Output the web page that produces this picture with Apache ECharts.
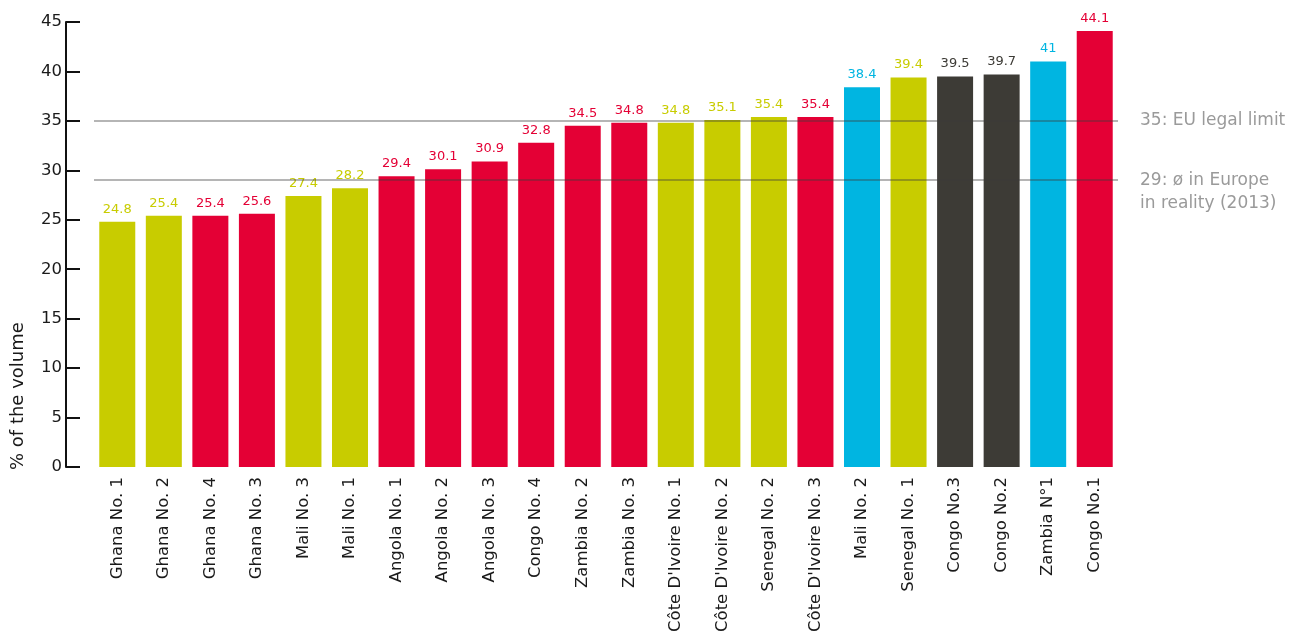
<!DOCTYPE html>
<html><head><meta charset="utf-8">
<script src="https://cdn.jsdelivr.net/npm/echarts@6/dist/echarts.min.js"></script>
<style>html,body{margin:0;padding:0;background:#fff}#c{width:1298px;height:641px}</style>
</head><body><div id="c"></div>
<script>
const categories = ["Ghana No. 1","Ghana No. 2","Ghana No. 4","Ghana No. 3","Mali No. 3","Mali No. 1","Angola No. 1","Angola No. 2","Angola No. 3","Congo No. 4","Zambia No. 2","Zambia No. 3","Côte D'Ivoire No. 1","Côte D'Ivoire No. 2","Senegal No. 2","Côte D'Ivoire No. 3","Mali No. 2","Senegal No. 1","Congo No.3","Congo No.2","Zambia N°1","Congo No.1"];
const values = [24.8,25.4,25.4,25.6,27.4,28.2,29.4,30.1,30.9,32.8,34.5,34.8,34.8,35.1,35.4,35.4,38.4,39.4,39.5,39.7,41,44.1];
const groups = ["olive","olive","red","red","olive","olive","red","red","red","red","red","red","olive","olive","olive","red","blue","olive","dark","dark","blue","red"];
const yTicks = [0,5,10,15,20,25,30,35,40,45];
const refValues = [35, 29];
const refLabels = ["35: EU legal limit", "\n29: ø in Europe\nin reality (2013)"];

const palette = {olive:"#c8cc00", red:"#e40035", blue:"#00b5e1", dark:"#3d3b36"};
const FONT = "DejaVu Sans";
const chart = echarts.init(document.getElementById('c'), null, {renderer:'canvas'});
chart.setOption({
  animation:false,
  textStyle:{fontFamily:FONT},
  grid:{left:94, right:180, top:22, bottom:174},
  xAxis:{
    type:'category', data:categories,
    axisLine:{show:false}, axisTick:{show:false},
    axisLabel:{rotate:90, fontSize:16.5, color:'#1a1a1a', margin:10, fontFamily:FONT, interval:0}
  },
  yAxis:{
    type:'value', min:yTicks[0], max:yTicks[yTicks.length-1], interval:yTicks[1]-yTicks[0],
    offset:28,
    axisLine:{show:true, lineStyle:{color:'#111', width:2}},
    axisTick:{show:true, inside:true, length:14, lineStyle:{color:'#111', width:2}},
    axisLabel:{fontSize:16.5, color:'#1a1a1a', margin:4, fontFamily:FONT},
    splitLine:{show:false}
  },
  graphic:[{
    type:'text', x:18, y:470, rotation:Math.PI/2,
    style:{text:'% of the volume', fontSize:18, fontFamily:FONT, fill:'#1a1a1a', textAlign:'left', textVerticalAlign:'middle'}
  }],
  series:[{
    type:'bar', barWidth:36,
    data: values.map((v,i)=>({value:v, itemStyle:{color:palette[groups[i]]}, label:{color:palette[groups[i]]}})),
    label:{show:true, position:'top', distance:6, fontSize:13, fontFamily:FONT},
    markLine:{
      silent:true, symbol:'none', z:10,
      lineStyle:{type:'solid', color:'rgba(60,60,60,0.5)', width:1.5},
      label:{show:true, position:'end', distance:22, color:'#9a9a9a', fontSize:17, fontFamily:FONT, lineHeight:23, align:'left'},
      data: refValues.map((v,i)=>({yAxis:v, label:{formatter:refLabels[i]}}))
    }
  }]
});
</script></body></html>
